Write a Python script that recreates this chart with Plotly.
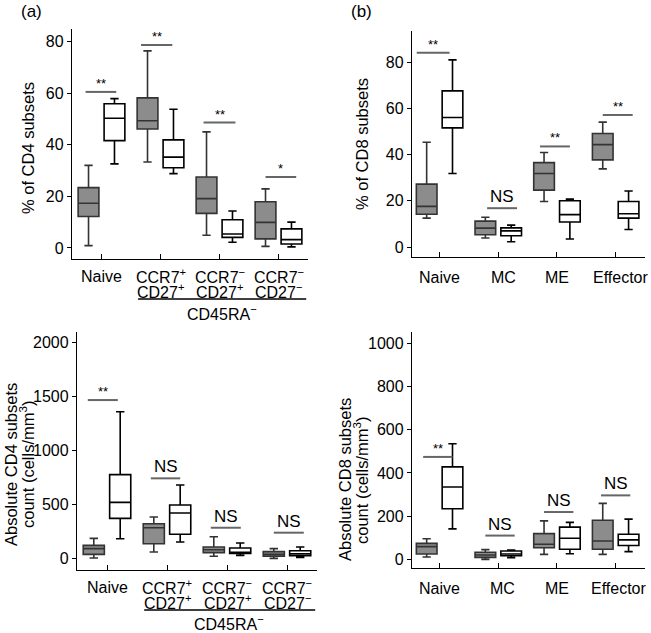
import plotly.graph_objects as go

# ---------------- data ----------------
cd4_cats = ["Naive", "CCR7+ CD27+", "CCR7− CD27+", "CCR7− CD27−"]
cd4_label_lines = [("Naive", ""),
                   ("CCR7<sup>+</sup>", "CD27<sup>+</sup>"),
                   ("CCR7<sup>−</sup>", "CD27<sup>+</sup>"),
                   ("CCR7<sup>−</sup>", "CD27<sup>−</sup>")]
cd8_cats = ["Naive", "MC", "ME", "Effector"]
cd8_label_lines = [("Naive", ""), ("MC", ""), ("ME", ""), ("Effector", "")]

# % of CD4 subsets (gray = group 1, white = group 2)
cd4p_gray_lo = [0.9, 33.3, 4.9, 0.6]
cd4p_gray_q1 = [12.2, 46.1, 13.4, 3.5]
cd4p_gray_med = [17.3, 49.3, 19.1, 9.9]
cd4p_gray_q3 = [23.4, 58.2, 27.5, 17.9]
cd4p_gray_hi = [32.0, 76.4, 45.0, 22.9]
cd4p_white_lo = [32.6, 28.8, 2.2, 0.4]
cd4p_white_q1 = [41.6, 31.1, 4.1, 1.5]
cd4p_white_med = [50.3, 35.2, 5.4, 3.2]
cd4p_white_q3 = [55.9, 41.9, 10.9, 7.4]
cd4p_white_hi = [57.9, 53.8, 14.3, 10.0]

# % of CD8 subsets
cd8p_gray_lo = [12.5, 3.9, 19.7, 33.8]
cd8p_gray_q1 = [14.2, 5.3, 24.6, 37.7]
cd8p_gray_med = [17.6, 8.2, 31.8, 44.3]
cd8p_gray_q3 = [27.2, 11.2, 36.5, 49.1]
cd8p_gray_hi = [45.3, 12.9, 40.9, 54.0]
cd8p_white_lo = [31.8, 2.3, 3.5, 7.6]
cd8p_white_q1 = [51.5, 4.9, 10.8, 12.5]
cd8p_white_med = [56.0, 7.0, 14.0, 14.4]
cd8p_white_q3 = [67.5, 8.3, 20.0, 19.7]
cd8p_white_hi = [80.9, 9.5, 20.7, 24.2]

# Absolute CD4 subsets count (cells/mm3)
cd4a_gray_lo = [3, 59, 19, 0]
cd4a_gray_q1 = [37, 136, 53, 19]
cd4a_gray_med = [90, 284, 80, 37]
cd4a_gray_q3 = [120, 321, 105, 62]
cd4a_gray_hi = [185, 383, 201, 90]
cd4a_white_lo = [182, 151, 28, 9]
cd4a_white_q1 = [371, 223, 46, 25]
cd4a_white_med = [519, 420, 53, 43]
cd4a_white_q3 = [776, 495, 96, 71]
cd4a_white_hi = [1360, 680, 142, 105]

# Absolute CD8 subsets count (cells/mm3)
cd8a_gray_lo = [11, 0, 23, 23]
cd8a_gray_q1 = [25, 9, 54, 47]
cd8a_gray_med = [59, 20, 70, 85]
cd8a_gray_q3 = [74, 33, 119, 181]
cd8a_gray_hi = [95, 45, 178, 259]
cd8a_white_lo = [141, 8, 26, 36]
cd8a_white_q1 = [234, 17, 47, 64]
cd8a_white_med = [335, 25, 98, 90]
cd8a_white_q3 = [428, 39, 149, 116]
cd8a_white_hi = [535, 43, 171, 186]

# significance labels and bar heights
cd4p_sig = ["**", "**", "**", "*"]
cd4p_sig_y = [60.5, 78.7, 48.6, 27.5]
cd8p_sig = ["**", "NS", "**", "**"]
cd8p_sig_y = [84.0, 16.8, 43.5, 57.1]
cd4a_sig = ["**", "NS", "NS", "NS"]
cd4a_sig_y = [1468, 742, 284, 238]
cd8a_sig = ["**", "NS", "NS", "NS"]
cd8a_sig_y = [474, 110, 219, 296]

# ---------------- figure ----------------
FONT = "Liberation Sans, Arial, sans-serif"
GRAY_FILL = "#8c8c8c"
GRAY_LINE = "#333333"
SIG_COLOR = "#666666"

W, H, OFF = 651, 633, 0


def fx(px):
    return (px - OFF) / W


def fy(py):
    return 1 - (py - OFF) / H


fig = go.Figure()

panels = [
    ("x", "y", cd4_cats, cd4_label_lines, (276, 291), [0, 0, 0, 0],
     (cd4p_gray_lo, cd4p_gray_q1, cd4p_gray_med, cd4p_gray_q3, cd4p_gray_hi),
     (cd4p_white_lo, cd4p_white_q1, cd4p_white_med, cd4p_white_q3, cd4p_white_hi),
     cd4p_sig, cd4p_sig_y, [(-0.27, 0.25), (-0.33, 0.2), (-0.27, 0.27), (-0.22, 0.3)]),
    ("x2", "y2", cd8_cats, cd8_label_lines, (277, 293), [0, 5, 0, 5],
     (cd8p_gray_lo, cd8p_gray_q1, cd8p_gray_med, cd8p_gray_q3, cd8p_gray_hi),
     (cd8p_white_lo, cd8p_white_q1, cd8p_white_med, cd8p_white_q3, cd8p_white_hi),
     cd8p_sig, cd8p_sig_y, [(-0.39, 0.17), (-0.19, 0.32), (-0.29, 0.22), (-0.22, 0.29)]),
    ("x3", "y3", cd4_cats, cd4_label_lines, (587, 602), [0, 0, 0, 0],
     (cd4a_gray_lo, cd4a_gray_q1, cd4a_gray_med, cd4a_gray_q3, cd4a_gray_hi),
     (cd4a_white_lo, cd4a_white_q1, cd4a_white_med, cd4a_white_q3, cd4a_white_hi),
     cd4a_sig, cd4a_sig_y, [(-0.32, 0.18), (-0.27, 0.22), (-0.27, 0.23), (-0.22, 0.28)]),
    ("x4", "y4", cd8_cats, cd8_label_lines, (588, 603), [0, 4, 0, 3],
     (cd8a_gray_lo, cd8a_gray_q1, cd8a_gray_med, cd8a_gray_q3, cd8a_gray_hi),
     (cd8a_white_lo, cd8a_white_q1, cd8a_white_med, cd8a_white_q3, cd8a_white_hi),
     cd8a_sig, cd8a_sig_y, [(-0.28, 0.22), (-0.22, 0.28), (-0.22, 0.28), (-0.25, 0.25)]),
]

shapes = []
annotations = []

for xa, ya, cats, lines, (ly1, ly2), lshift, g, w, sig, sig_y, spans in panels:
    for name, stats, fill, lc in (("g", g, GRAY_FILL, GRAY_LINE), ("w", w, "white", "black")):
        lo, q1, med, q3, hi = stats
        fig.add_trace(go.Box(
            x=cats, q1=q1, median=med, q3=q3, lowerfence=lo, upperfence=hi,
            xaxis=xa, yaxis=ya, offsetgroup=name, name=name,
            fillcolor=fill, line=dict(color=lc, width=1.6),
            whiskerwidth=0.4, boxpoints=False, showlegend=False,
            hoverinfo="skip",
        ))
    # category labels (two lines with tight spacing)
    for i, (l1, l2) in enumerate(lines):
        for txt, py in ((l1, ly1), (l2, ly2)):
            if txt:
                annotations.append(dict(xref=xa, yref="paper", x=i, y=fy(py),
                                        text=txt, showarrow=False, yanchor="middle",
                                        xanchor="center", xshift=lshift[i],
                                        font=dict(size=16, family=FONT, color="black")))
    for i, (label, yv) in enumerate(zip(sig, sig_y)):
        x0, x1 = spans[i]
        shapes.append(dict(type="line", xref=xa, yref=ya, x0=i + x0, x1=i + x1,
                           y0=yv, y1=yv, line=dict(color=SIG_COLOR, width=2)))
        size = 17 if label == "NS" else 13
        annotations.append(dict(xref=xa, yref=ya, x=i + (x0 + x1) / 2, y=yv,
                                text=label, showarrow=False, yanchor="bottom",
                                yshift=-1 if label != "NS" else 0,
                                font=dict(size=size, color="black", family=FONT)))

# CD45RA- group lines
for y_line, y_text, xa in ((299, 313, "x"), (610, 623, "x3")):
    shapes.append(dict(type="line", xref=xa, yref="paper", x0=0.62, x1=3.47,
                       y0=fy(y_line), y1=fy(y_line), line=dict(color="black", width=1.3)))
    annotations.append(dict(xref=xa, yref="paper", x=2.04, y=fy(y_text),
                            text="CD45RA<sup>−</sup>", showarrow=False,
                            yanchor="middle", font=dict(size=16, family=FONT, color="black")))

for txt, px in (("(a)", 22), ("(b)", 352)):
    annotations.append(dict(xref="paper", yref="paper", x=fx(px), y=fy(12),
                            text=txt, showarrow=False, xanchor="left", yanchor="middle",
                            xshift=-3,
                            font=dict(size=17, family=FONT, color="black")))

# y-axis titles as rotated annotations (one annotation per line)
ytitles = [
    ("% of CD4 subsets", 28, 148),
    ("% of CD8 subsets", 362, 144),
    ("Absolute CD4 subsets", 11, 465),
    ("count (cells/mm<sup>3</sup>)", 27, 465),
    ("Absolute CD8 subsets", 345, 480),
    ("count (cells/mm<sup>3</sup>)", 361, 481),
]
for txt, px, py in ytitles:
    annotations.append(dict(xref="paper", yref="paper", x=fx(px), y=fy(py),
                            text=txt, showarrow=False, textangle=-90,
                            xanchor="center", yanchor="middle",
                            font=dict(size=16.5, family=FONT, color="black")))

axis_common = dict(showline=True, linecolor="black", linewidth=1.3,
                   tickcolor="black", tickwidth=1.3, showgrid=False,
                   zeroline=False, mirror=False, automargin=False)


def xax(x0, x1, anchor, rng):
    d = dict(axis_common)
    d.update(domain=[fx(x0), fx(x1)], anchor=anchor, type="category", range=rng,
             ticks="inside", ticklen=5, showticklabels=False)
    return d


def yax(y0, y1, anchor, rng, dtick):
    d = dict(axis_common)
    d.update(domain=[fy(y1), fy(y0)], anchor=anchor, range=rng, dtick=dtick,
             ticks="outside", ticklen=4,
             tickfont=dict(size=16, family=FONT, color="black"))
    return d


fig.update_layout(
    width=W, height=H,
    margin=dict(l=0, r=0, t=0, b=0),
    paper_bgcolor="white", plot_bgcolor="white",
    font=dict(family=FONT, color="black"),
    boxmode="group", boxgap=0.12, boxgroupgap=0.2,
    xaxis=xax(72, 308, "y", [-0.5, 3.5]),
    yaxis=yax(29, 259, "x", [-4.3, 84.9], 20),
    xaxis2=xax(412, 645, "y2", [-0.47, 3.5]),
    yaxis2=yax(31, 257, "x2", [-4.3, 93.4], 20),
    xaxis3=xax(77, 317, "y3", [-0.5, 3.5]),
    yaxis3=yax(332, 570, "x3", [-108, 2099], 500),
    xaxis4=xax(412, 645, "y4", [-0.47, 3.5]),
    yaxis4=yax(332, 568, "x4", [-40, 1052], 200),
    shapes=shapes,
    annotations=annotations,
)

fig.write_html("out.html", config={"displayModeBar": False},
               post_script="document.body.style.margin='0';")
